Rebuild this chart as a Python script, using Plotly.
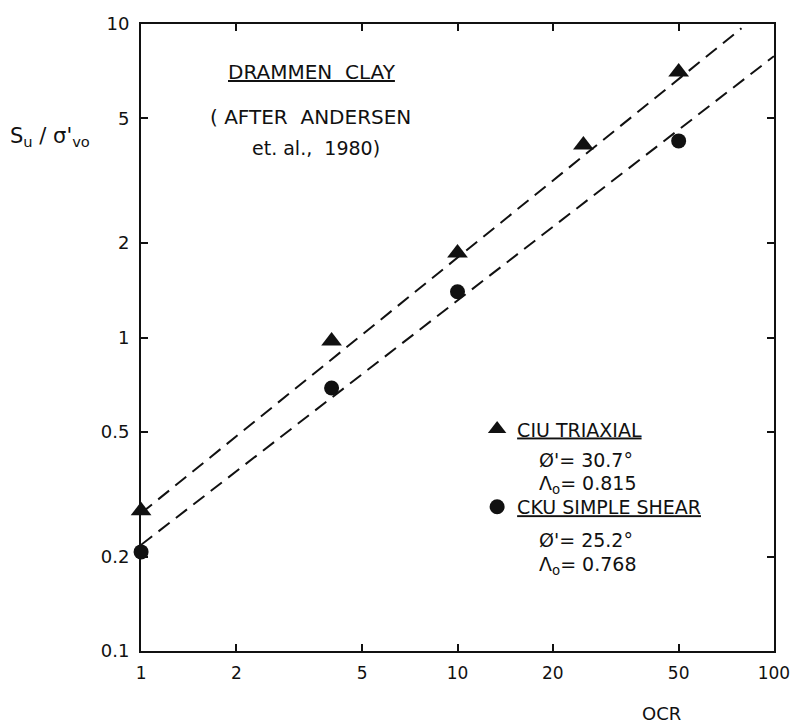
import plotly.graph_objects as go

# ---- data ----
ocr_triaxial = [1, 4, 10, 25, 50]
su_triaxial = [0.28, 0.975, 1.86, 4.11, 7.03]

ocr_shear = [1, 4, 10, 50]
su_shear = [0.207, 0.69, 1.40, 4.24]

# fitted dashed lines (end points)
fit_tri_ocr = [1, 79]
fit_tri_su = [0.275, 9.7]
fit_ss_ocr = [1, 100]
fit_ss_su = [0.218, 7.9]

x_ticks = [1, 2, 5, 10, 20, 50, 100]
x_ticklabels = ["1", "2", "5", "10", "20", "50", "100"]
y_ticks = [0.1, 0.2, 0.5, 1, 2, 5, 10]
y_ticklabels = ["0.1", "0.2", "0.5", "1", "2", "5", "10"]

FONT = "DejaVu Sans"
BLACK = "#111111"

fig = go.Figure()

fig.add_trace(go.Scatter(
    x=fit_tri_ocr, y=fit_tri_su, mode="lines",
    line=dict(color=BLACK, width=2, dash="14px,8px"),
    showlegend=False, hoverinfo="skip"))
fig.add_trace(go.Scatter(
    x=fit_ss_ocr, y=fit_ss_su, mode="lines",
    line=dict(color=BLACK, width=2, dash="14px,8px"),
    showlegend=False, hoverinfo="skip"))

fig.add_trace(go.Scatter(
    x=ocr_triaxial, y=su_triaxial, mode="markers",
    marker=dict(symbol="triangle-up", size=18, color=BLACK),
    name="CIU TRIAXIAL", legendgroup="a", cliponaxis=False))
fig.add_trace(go.Scatter(
    x=ocr_shear, y=su_shear, mode="markers",
    marker=dict(symbol="circle", size=15, color=BLACK),
    name="CKU SIMPLE SHEAR", legendgroup="b", cliponaxis=False))

axis_common = dict(
    type="log", showgrid=False, zeroline=False,
    showline=True, linecolor=BLACK, linewidth=2, mirror="ticks",
    ticks="inside", ticklen=7, tickwidth=1.5, tickcolor=BLACK,
    ticklabeloverflow="allow", automargin=False,
)

fig.update_xaxes(range=[-0.0003, 2.0003], tickvals=x_ticks, ticktext=x_ticklabels,
                 ticklabelstandoff=6, tickfont=dict(family=FONT, size=17, color=BLACK),
                 **axis_common)
fig.update_yaxes(range=[-1.0003, 1.0003], tickvals=y_ticks, ticktext=y_ticklabels,
                 ticklabelstandoff=6, tickfont=dict(family=FONT, size=18, color=BLACK),
                 **axis_common)

ann = []
def add_text(text, x, y, xanchor="center", size=19, under=False):
    ann.append(dict(
        text=text, x=x, y=y, xref="paper", yref="paper",
        xanchor=xanchor, yanchor="middle", showarrow=False,
        font=dict(family=FONT, size=size, color=BLACK,
                  lineposition="under" if under else "none")))

add_text("DRAMMEN  CLAY", 0.270, 0.923, size=20, under=True)
add_text("( AFTER  ANDERSEN", 0.267, 0.852, size=20)
add_text("et. al.,  1980)", 0.276, 0.802, size=19)
add_text("Ø'= 30.7°", 0.626, 0.305, xanchor="left")
add_text("Λ<sub>o</sub>= 0.815", 0.626, 0.265, xanchor="left")
add_text("Ø'= 25.2°", 0.626, 0.177, xanchor="left")
add_text("Λ<sub>o</sub>= 0.768", 0.626, 0.137, xanchor="left")
add_text("S<sub>u</sub> / σ'<sub>vo</sub>", -0.144, 0.820, size=21)
add_text("OCR", 0.823, -0.099, size=18)

fig.update_layout(
    width=790, height=723,
    margin=dict(l=141, r=16, t=24, b=72, autoexpand=False),
    paper_bgcolor="white", plot_bgcolor="white",
    font=dict(family=FONT, color=BLACK),
    annotations=ann,
    showlegend=True,
    legend=dict(
        x=0.531, y=0.384, xanchor="left", yanchor="top",
        bgcolor="rgba(0,0,0,0)", borderwidth=0,
        font=dict(family=FONT, size=19, color=BLACK, lineposition="under"),
        tracegroupgap=50, itemsizing="trace",
    ),
)

fig.write_html("out.html")
